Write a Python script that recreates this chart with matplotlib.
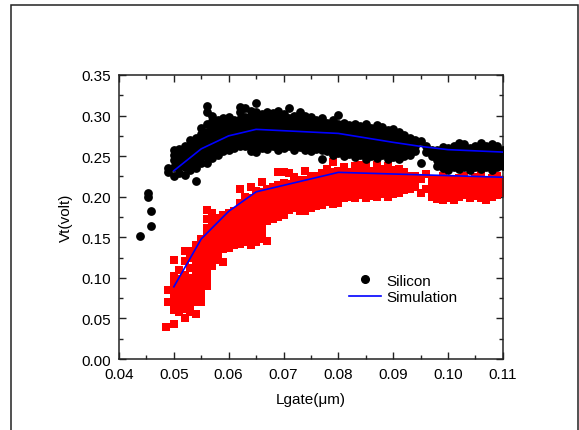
import matplotlib
matplotlib.use("Agg")
import matplotlib.pyplot as plt
from matplotlib.lines import Line2D
from matplotlib.patches import Rectangle
from matplotlib.ticker import MultipleLocator

plt.rcParams['font.family'] = ['Liberation Sans', 'DejaVu Sans']
plt.rcParams['font.size'] = 11

# measured Vt vs gate length, one column of points per Lgate value
silicon = {
    0.0438: [0.152],
    0.0453: [0.200, 0.204],
    0.0458: [0.164, 0.183],
    0.049: [0.231, 0.235],
    0.050: [0.226, 0.236, 0.245, 0.252, 0.258],
    0.051: [0.229, 0.238, 0.246, 0.255, 0.259],
    0.052: [0.227, 0.236, 0.243, 0.251, 0.258, 0.263],
    0.053: [0.233, 0.240, 0.248, 0.256, 0.262, 0.270],
    0.054: [0.219, 0.235, 0.242, 0.250, 0.257, 0.265, 0.272],
    0.055: [0.242, 0.249, 0.256, 0.263, 0.270, 0.277, 0.285],
    0.056: [0.242, 0.250, 0.258, 0.265, 0.272, 0.280, 0.290, 0.305, 0.312],
    0.057: [0.248, 0.255, 0.262, 0.270, 0.277, 0.285, 0.293, 0.300],
    0.058: [0.252, 0.259, 0.266, 0.273, 0.280, 0.288, 0.295],
    0.059: [0.256, 0.262, 0.269, 0.276, 0.283, 0.290, 0.297],
    0.060: [0.258, 0.265, 0.272, 0.279, 0.286, 0.293, 0.298],
    0.061: [0.260, 0.267, 0.274, 0.281, 0.288, 0.294],
    0.062: [0.262, 0.268, 0.275, 0.282, 0.289, 0.296, 0.305, 0.311],
    0.063: [0.263, 0.270, 0.277, 0.284, 0.291, 0.298, 0.309],
    0.064: [0.256, 0.264, 0.271, 0.278, 0.285, 0.292, 0.300, 0.306],
    0.065: [0.255, 0.262, 0.269, 0.276, 0.283, 0.290, 0.297, 0.304, 0.316],
    0.066: [0.260, 0.267, 0.274, 0.281, 0.288, 0.295, 0.302],
    0.067: [0.259, 0.266, 0.273, 0.280, 0.287, 0.294, 0.301, 0.305],
    0.068: [0.262, 0.269, 0.276, 0.283, 0.290, 0.297, 0.303],
    0.069: [0.258, 0.265, 0.272, 0.279, 0.286, 0.293, 0.300, 0.306],
    0.070: [0.260, 0.267, 0.274, 0.281, 0.288, 0.295, 0.302],
    0.071: [0.262, 0.269, 0.276, 0.283, 0.290, 0.297, 0.309],
    0.072: [0.258, 0.265, 0.272, 0.279, 0.286, 0.293, 0.300],
    0.073: [0.261, 0.268, 0.275, 0.282, 0.289, 0.296, 0.305],
    0.074: [0.257, 0.264, 0.271, 0.278, 0.285, 0.292, 0.299],
    0.075: [0.256, 0.263, 0.270, 0.277, 0.284, 0.291, 0.298],
    0.076: [0.259, 0.266, 0.273, 0.280, 0.287, 0.294],
    0.077: [0.246, 0.258, 0.265, 0.272, 0.279, 0.286, 0.293, 0.297],
    0.078: [0.256, 0.263, 0.270, 0.277, 0.284, 0.291],
    0.079: [0.252, 0.259, 0.266, 0.273, 0.280, 0.287, 0.294],
    0.080: [0.254, 0.261, 0.268, 0.275, 0.282, 0.289, 0.301],
    0.081: [0.250, 0.257, 0.264, 0.271, 0.278, 0.285, 0.291],
    0.082: [0.253, 0.260, 0.267, 0.274, 0.281, 0.288],
    0.083: [0.249, 0.256, 0.263, 0.270, 0.277, 0.284, 0.290],
    0.084: [0.252, 0.259, 0.266, 0.273, 0.280, 0.287],
    0.085: [0.246, 0.253, 0.260, 0.267, 0.274, 0.281, 0.289],
    0.086: [0.250, 0.257, 0.264, 0.271, 0.278, 0.285],
    0.087: [0.248, 0.255, 0.262, 0.269, 0.276, 0.283, 0.288],
    0.088: [0.251, 0.258, 0.265, 0.272, 0.279, 0.286],
    0.089: [0.247, 0.254, 0.261, 0.268, 0.275, 0.282],
    0.090: [0.249, 0.256, 0.263, 0.270, 0.277, 0.284],
    0.091: [0.246, 0.253, 0.260, 0.267, 0.274, 0.280],
    0.092: [0.250, 0.257, 0.264, 0.271, 0.276],
    0.093: [0.252, 0.259, 0.266, 0.272],
    0.094: [0.256, 0.263, 0.270],
    0.095: [0.242, 0.269],
    0.096: [0.255, 0.262],
    0.097: [0.250, 0.257],
    0.098: [0.238, 0.245, 0.252, 0.258],
    0.099: [0.235, 0.242, 0.249, 0.256, 0.261],
    0.100: [0.233, 0.240, 0.247, 0.254, 0.260],
    0.101: [0.236, 0.243, 0.250, 0.257, 0.262],
    0.102: [0.234, 0.241, 0.248, 0.255, 0.259, 0.266],
    0.103: [0.237, 0.244, 0.251, 0.258, 0.265],
    0.104: [0.233, 0.240, 0.247, 0.254, 0.260],
    0.105: [0.236, 0.243, 0.250, 0.257, 0.262],
    0.106: [0.234, 0.241, 0.248, 0.255, 0.260, 0.266],
    0.107: [0.237, 0.244, 0.251, 0.258, 0.263],
    0.108: [0.233, 0.240, 0.247, 0.254, 0.260, 0.265],
    0.109: [0.236, 0.243, 0.250, 0.257, 0.262],
    0.110: [0.238, 0.245, 0.252, 0.258],
}

# second device set (red squares)
red_set = {
    0.0485: [0.039],
    0.049: [0.070, 0.085],
    0.050: [0.043, 0.060, 0.068, 0.076, 0.085, 0.094, 0.102, 0.122],
    0.051: [0.058, 0.066, 0.074, 0.082, 0.090, 0.098, 0.110],
    0.052: [0.051, 0.062, 0.070, 0.078, 0.086, 0.094, 0.104, 0.121, 0.133],
    0.053: [0.058, 0.066, 0.074, 0.082, 0.090, 0.100, 0.112, 0.125, 0.133],
    0.054: [0.055, 0.070, 0.078, 0.086, 0.095, 0.104, 0.113, 0.122, 0.131, 0.140],
    0.055: [0.070, 0.078, 0.087, 0.096, 0.105, 0.114, 0.123, 0.132, 0.141, 0.148],
    0.056: [0.090, 0.098, 0.107, 0.116, 0.125, 0.134, 0.143, 0.152, 0.161, 0.172, 0.184],
    0.057: [0.115, 0.124, 0.133, 0.142, 0.151, 0.160, 0.170, 0.180],
    0.058: [0.122, 0.131, 0.140, 0.149, 0.158, 0.166, 0.174],
    0.059: [0.120, 0.136, 0.145, 0.154, 0.163, 0.171, 0.177],
    0.060: [0.137, 0.146, 0.155, 0.164, 0.172, 0.180],
    0.061: [0.140, 0.149, 0.158, 0.167, 0.175, 0.183],
    0.062: [0.142, 0.151, 0.160, 0.168, 0.176, 0.184, 0.192, 0.210],
    0.063: [0.144, 0.152, 0.160, 0.168, 0.176, 0.184, 0.192, 0.200],
    0.064: [0.141, 0.150, 0.158, 0.166, 0.174, 0.182, 0.190, 0.198, 0.212],
    0.065: [0.144, 0.152, 0.160, 0.168, 0.176, 0.184, 0.192, 0.200, 0.207],
    0.066: [0.148, 0.158, 0.166, 0.174, 0.182, 0.190, 0.198, 0.206, 0.218],
    0.067: [0.145, 0.170, 0.178, 0.186, 0.194, 0.202, 0.210],
    0.068: [0.172, 0.180, 0.188, 0.196, 0.204, 0.212],
    0.069: [0.175, 0.183, 0.191, 0.199, 0.207, 0.214, 0.230],
    0.070: [0.178, 0.186, 0.194, 0.202, 0.210, 0.217, 0.231],
    0.071: [0.184, 0.192, 0.200, 0.208, 0.216, 0.229],
    0.072: [0.186, 0.194, 0.202, 0.210, 0.218, 0.224],
    0.073: [0.183, 0.190, 0.198, 0.206, 0.214, 0.221],
    0.074: [0.182, 0.188, 0.196, 0.204, 0.212, 0.220, 0.232],
    0.075: [0.186, 0.194, 0.202, 0.210, 0.218, 0.226],
    0.076: [0.188, 0.196, 0.204, 0.212, 0.220, 0.226],
    0.077: [0.190, 0.198, 0.206, 0.214, 0.222, 0.229],
    0.078: [0.194, 0.202, 0.210, 0.218, 0.226, 0.234],
    0.079: [0.191, 0.199, 0.207, 0.215, 0.223, 0.231, 0.243],
    0.080: [0.192, 0.200, 0.208, 0.216, 0.224, 0.232],
    0.081: [0.198, 0.206, 0.214, 0.222, 0.230, 0.236],
    0.082: [0.200, 0.208, 0.216, 0.224, 0.231],
    0.083: [0.199, 0.207, 0.215, 0.223, 0.230, 0.238],
    0.084: [0.202, 0.210, 0.218, 0.226, 0.233, 0.239],
    0.085: [0.199, 0.207, 0.215, 0.223, 0.231, 0.238],
    0.086: [0.201, 0.209, 0.217, 0.225, 0.232],
    0.087: [0.200, 0.208, 0.216, 0.224, 0.231, 0.239],
    0.088: [0.203, 0.211, 0.219, 0.227, 0.234],
    0.089: [0.200, 0.208, 0.216, 0.224, 0.232, 0.238],
    0.090: [0.203, 0.211, 0.219, 0.227, 0.233],
    0.091: [0.205, 0.213, 0.221, 0.229, 0.234],
    0.092: [0.208, 0.216, 0.224, 0.230],
    0.093: [0.210, 0.218, 0.225],
    0.094: [0.212, 0.220, 0.226],
    0.095: [0.205, 0.222],
    0.096: [0.209, 0.228],
    0.097: [0.200, 0.208, 0.216, 0.222],
    0.098: [0.197, 0.205, 0.213, 0.220],
    0.099: [0.196, 0.204, 0.212, 0.219, 0.226],
    0.100: [0.199, 0.207, 0.215, 0.222],
    0.101: [0.196, 0.204, 0.212, 0.220],
    0.102: [0.200, 0.208, 0.216, 0.223],
    0.103: [0.202, 0.210, 0.218, 0.225],
    0.104: [0.198, 0.206, 0.214, 0.221],
    0.105: [0.201, 0.209, 0.217, 0.224],
    0.106: [0.199, 0.207, 0.215, 0.222, 0.228],
    0.107: [0.196, 0.204, 0.212, 0.220],
    0.108: [0.200, 0.208, 0.216, 0.223],
    0.109: [0.202, 0.210, 0.218, 0.225],
    0.110: [0.205, 0.213, 0.220],
}

# simulated curves
sim_upper_x = [0.050, 0.055, 0.060, 0.065, 0.080, 0.090, 0.095, 0.100, 0.110]
sim_upper_y = [0.232, 0.259, 0.275, 0.283, 0.278, 0.267, 0.262, 0.258, 0.255]
sim_lower_x = [0.050, 0.055, 0.060, 0.065, 0.070, 0.080, 0.090, 0.100, 0.110]
sim_lower_y = [0.089, 0.148, 0.182, 0.206, 0.214, 0.230, 0.228, 0.226, 0.224]


def flatten(cols):
    xs, ys = [], []
    for x, vals in cols.items():
        for v in vals:
            xs.append(x)
            ys.append(v)
    return xs, ys


fig = plt.figure(figsize=(5.79, 4.31), dpi=100)
ax = fig.add_axes([0.2055, 0.1647, 0.663, 0.659])

rx, ry = flatten(red_set)
ax.scatter(rx, ry, marker='s', s=32, color='red', linewidths=0, zorder=2)
sx, sy = flatten(silicon)
ax.scatter(sx, sy, marker='o', s=40, color='black', linewidths=0, zorder=3)
ax.plot(sim_upper_x, sim_upper_y, color='blue', lw=1.2, zorder=4)
ax.plot(sim_lower_x, sim_lower_y, color='blue', lw=1.2, zorder=4)

ax.set_xlim(0.04, 0.11)
ax.set_ylim(0.0, 0.35)
ax.xaxis.set_major_locator(MultipleLocator(0.01))
ax.xaxis.set_minor_locator(MultipleLocator(0.005))
ax.yaxis.set_major_locator(MultipleLocator(0.05))
ax.yaxis.set_minor_locator(MultipleLocator(0.025))
ax.xaxis.set_major_formatter(plt.FuncFormatter(lambda v, p: f"{v:.2f}"))
ax.yaxis.set_major_formatter(plt.FuncFormatter(lambda v, p: f"{v:.2f}"))
ax.tick_params(which='both', direction='in', top=True, right=True,
               color='#222222', width=1.0)
ax.tick_params(which='major', length=5, pad=6, labelsize=11)
ax.tick_params(which='minor', length=3)
for sp in ax.spines.values():
    sp.set_color('#222222')
    sp.set_linewidth(1.1)

ax.set_xlabel('Lgate(μm)', fontsize=11, labelpad=8)
ax.set_ylabel('Vt(volt)', fontsize=11, labelpad=6)

handles = [
    Line2D([], [], marker='o', ls='none', color='black', ms=5.5),
    Line2D([], [], color='blue', lw=1.2),
]
ax.legend(handles, ['Silicon', 'Simulation'], loc='upper left',
          bbox_to_anchor=(0.6, 0.30), frameon=False, fontsize=11,
          handlelength=2.1, handletextpad=0.3, labelspacing=0.15,
          borderpad=0, borderaxespad=0)

# outer frame around the figure
fig.patches.append(Rectangle((0.019, -0.1), 0.979, 1.086, transform=fig.transFigure,
                             fill=False, edgecolor='#222222', lw=1.1))

fig.savefig('out.png', dpi=100)
